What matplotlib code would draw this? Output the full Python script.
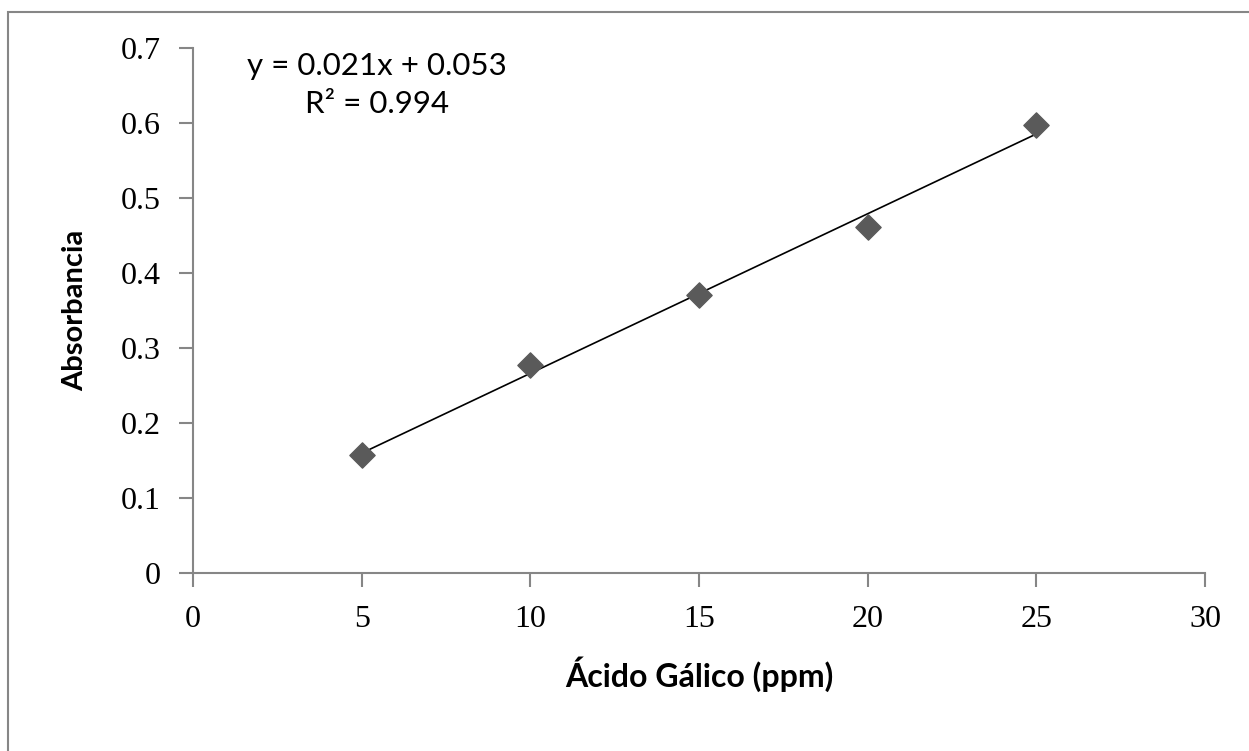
import matplotlib
matplotlib.use("Agg")
from matplotlib import pyplot as plt
from matplotlib.patches import Rectangle
import numpy as np

# data
conc = [5, 10, 15, 20, 25]
absorb = [0.157, 0.277, 0.371, 0.461, 0.597]
x_ticks = [0, 5, 10, 15, 20, 25, 30]
y_ticks = [0, 0.1, 0.2, 0.3, 0.4, 0.5, 0.6, 0.7]
y_tick_labels = ["0", "0.1", "0.2", "0.3", "0.4", "0.5", "0.6", "0.7"]
eq_line1 = "y = 0.021x + 0.053"
eq_line2 = "R² = 0.994"

axis_col = "#868686"

fig = plt.figure(figsize=(12.49, 7.51), dpi=100)
# chart area frame, runs off the right and bottom edges
fig.patches.append(Rectangle((8/1249, -0.1), 1.2, 1.1 - 12/751,
                             transform=fig.transFigure, fill=False,
                             edgecolor=axis_col, linewidth=1.5))
ax = fig.add_axes([193/1249, 1 - 573/751, (1205 - 193)/1249, (573 - 48)/751])

# linear trendline
slope, intercept = np.polyfit(conc, absorb, 1)
xs = np.array([conc[0], conc[-1]])
ax.plot(xs, slope*xs + intercept, color="black", linewidth=1.2, zorder=2)
ax.scatter(conc, absorb, marker="D", s=165, color="#5a5a5a", zorder=3)

ax.set_xlim(0, 30)
ax.set_ylim(0, 0.7)
ax.set_xticks(x_ticks)
ax.set_yticks(y_ticks)
ax.set_yticklabels(y_tick_labels)
for s in ["top", "right"]:
    ax.spines[s].set_visible(False)
for s in ["left", "bottom"]:
    ax.spines[s].set_color(axis_col)
    ax.spines[s].set_linewidth(1.5)
ax.tick_params(direction="out", length=10, width=1.5, color=axis_col,
               labelsize=23, pad=13)
for lab in ax.get_xticklabels() + ax.get_yticklabels():
    lab.set_family("Liberation Serif")

ax.set_xlabel("Ácido Gálico (ppm)", fontsize=23, fontweight="bold",
              family="Lato", labelpad=16)
ax.set_ylabel("Absorbancia", fontsize=21, fontweight="bold",
              family="Lato")
ax.yaxis.set_label_coords(-0.104, 0.5)
ax.text(5.45, 0.664, eq_line1, ha="center", va="baseline", fontsize=22.5,
        family="Lato")
ax.text(5.45, 0.613, eq_line2, ha="center", va="baseline", fontsize=22.5,
        family="Lato")

fig.savefig("out.png", dpi=100)
